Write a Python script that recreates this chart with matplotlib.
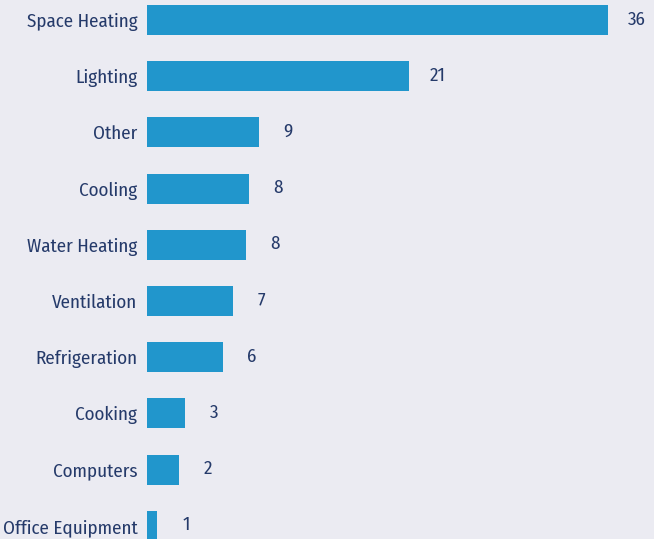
import matplotlib
matplotlib.use("Agg")
import matplotlib.pyplot as plt

categories = ["Space Heating", "Lighting", "Other", "Cooling", "Water Heating",
              "Ventilation", "Refrigeration", "Cooking", "Computers", "Office Equipment"]
values = [36, 20.45, 8.75, 7.95, 7.7, 6.7, 5.9, 3.0, 2.5, 0.8]
value_labels = ["36", "21", "9", "8", "8", "7", "6", "3", "2", "1"]

plt.rcParams["font.family"] = ["Fira Sans Condensed", "DejaVu Sans"]

bg = "#ebebf2"
bar_color = "#2196cc"
text_color = "#253a6a"

W, H = 654, 539
fig = plt.figure(figsize=(W / 100, H / 100), dpi=100, facecolor=bg)
ax = fig.add_axes([147 / W, 0, (W - 147) / W, 1])
ax.set_facecolor(bg)

px_per_unit = 461 / 36.0
spacing = 56.2
ys = list(range(len(categories)))
ax.barh(ys, values, height=30 / spacing, color=bar_color, align="center")

ax.set_xlim(0, (W - 147) / px_per_unit)
top = -20 / spacing
ax.set_ylim(top + H / spacing, top)

fs = 13.7
for y, v, lab in zip(ys, values, value_labels):
    ax.annotate(lab, xy=(v, y), xytext=(29 * 0.72, 0.5), textcoords="offset points",
                ha="center", va="center", fontsize=fs, color=text_color)

ax.set_yticks(ys)
ax.set_yticklabels(categories, fontsize=fs, color=text_color)
ax.tick_params(axis="y", length=0, pad=7)
ax.set_xticks([])
for s in ax.spines.values():
    s.set_visible(False)

fig.savefig("out.png", dpi=100, facecolor=bg)
